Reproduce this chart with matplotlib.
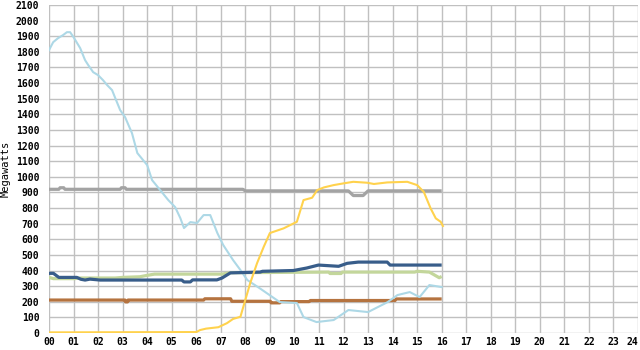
import matplotlib
matplotlib.use("Agg")
import matplotlib.pyplot as plt

# ---- data (hours, megawatts) ----
lb_h = [0, 0.17, 0.37, 0.57, 0.73, 0.86, 1.0, 1.27, 1.47, 1.6, 1.8, 2.0, 2.2, 2.37, 2.57, 2.7, 2.9,
        3.1, 3.38, 3.6, 4.0, 4.2, 4.53, 4.86, 5.14, 5.35, 5.5, 5.76, 6.03, 6.3, 6.57, 6.86, 7.1,
        7.5, 7.8, 8.08, 8.6, 9.4, 10.1, 10.37, 10.9, 11.6, 12.2, 13.0, 13.4, 13.8, 14.2, 14.7,
        15.1, 15.5, 16.0]
lb_v = [1811, 1862, 1888, 1907, 1926, 1926, 1894, 1824, 1747, 1715, 1670, 1651, 1619, 1587, 1555,
        1504, 1427, 1382, 1280, 1152, 1075, 979, 915, 851, 806, 736, 672, 710, 704, 755, 755, 640,
        563, 467, 403, 339, 285, 198, 192, 102, 70, 83, 147, 134, 166, 198, 243, 262, 230, 307, 294]

gray_h = [0, 0.4, 0.45, 0.6, 0.65, 2.9, 2.95, 3.1, 3.15, 7.9, 8.0, 12.2, 12.4, 12.8, 13.0, 16.0]
gray_v = [920, 920, 930, 930, 920, 920, 930, 930, 920, 920, 910, 910, 880, 880, 910, 910]

blue_h = [0, 0.18, 0.4, 1.13, 1.3, 1.47, 1.67, 2.08, 5.41, 5.5, 5.76, 5.85, 6.84, 7.05, 7.39, 8.6, 8.7,
          9.96, 10.5, 10.98, 11.8, 12.15, 12.6, 13.78, 13.9, 16.0]
blue_v = [382, 382, 356, 356, 344, 339, 345, 339, 339, 327, 327, 340, 340, 352, 385, 390, 395,
          400, 416, 435, 427, 446, 454, 454, 435, 435]

green_h = [0, 0.18, 1.05, 1.2, 2.7, 3.0, 3.7, 4.0, 4.3, 7.05, 7.4, 11.4, 11.45, 11.9, 11.95, 14.9,
           15.0, 15.5, 15.9, 16.0]
green_v = [356, 348, 348, 352, 352, 356, 360, 369, 377, 377, 386, 390, 381, 381, 390, 390, 395, 390,
           354, 362]

brown_h = [0, 3.1, 3.12, 3.2, 3.22, 6.3, 6.35, 7.4, 7.45, 9.02, 9.05, 9.4, 9.45, 10.6, 10.65, 14.1,
           14.15, 16.0]
brown_v = [211, 211, 199, 199, 211, 211, 219, 219, 203, 203, 193, 193, 201, 201, 208, 208, 218, 218]

yel_h = [0, 6.0, 6.16, 6.4, 6.9, 7.25, 7.5, 7.8, 8.2, 8.48, 8.75, 9.0, 9.56, 10.1, 10.37, 10.72,
         10.93, 11.2, 11.6, 12.0, 12.4, 12.97, 13.24, 13.78, 14.6, 15.0, 15.27, 15.55, 15.76, 15.96,
         16.05]
yel_v = [4, 6, 19, 28, 37, 63, 90, 104, 320, 448, 552, 640, 670, 712, 851, 866, 915, 932, 947, 958,
         968, 962, 954, 964, 968, 947, 904, 798, 734, 712, 685]

x_ticks = list(range(0, 25))
x_labels = ["%02d" % h for h in x_ticks]
y_ticks = list(range(0, 2101, 100))

W, H = 640, 350
fig = plt.figure(figsize=(W / 100, H / 100), dpi=100)
ax = fig.add_axes([49 / W, (H - 333) / H, (638 - 49) / W, (333 - 5) / H])

ax.plot(gray_h, gray_v, color="#a3a3a3", lw=2.3, solid_capstyle="butt")
ax.plot(green_h, green_v, color="#c3d69b", lw=2.3, solid_capstyle="butt")
ax.plot(brown_h, brown_v, color="#b5733f", lw=2.3, solid_capstyle="butt")
ax.plot(lb_h, lb_v, color="#add8e6", lw=1.5)
ax.plot(blue_h, blue_v, color="#385d8a", lw=2.3, solid_capstyle="butt")
ax.plot(yel_h, yel_v, color="#ffd24d", lw=1.5)

ax.set_xlim(0, 24)
ax.set_ylim(0, 2100)
ax.set_xticks(x_ticks)
ax.set_xticklabels(x_labels)
ax.set_yticks(y_ticks)
ax.grid(True, color="#c0c0c0", lw=1.0)
ax.set_axisbelow(True)
for s in ax.spines.values():
    s.set_visible(False)
ax.tick_params(length=0, labelsize=7)
ax.tick_params(axis="y", pad=7)
ax.tick_params(axis="x", pad=3)
for lab in ax.get_xticklabels() + ax.get_yticklabels():
    lab.set_family("DejaVu Sans Mono")
    lab.set_fontweight("bold")
ax.get_xticklabels()[-1].set_horizontalalignment("right")
ax.set_ylabel("Megawatts", fontsize=7.5, family="DejaVu Sans Mono", labelpad=4)

fig.savefig("out.png", dpi=100)
